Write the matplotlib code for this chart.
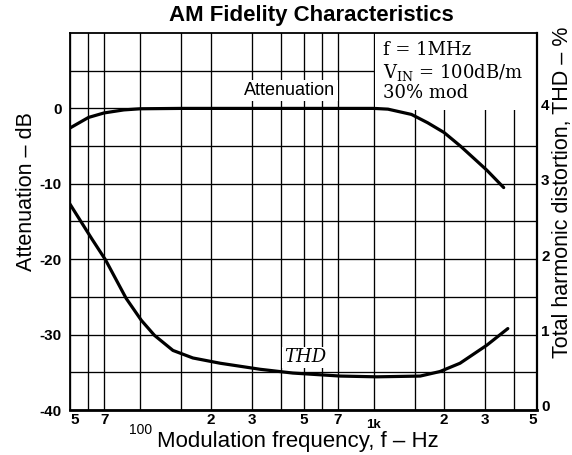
import matplotlib
matplotlib.use("Agg")
import matplotlib.pyplot as plt
import matplotlib.transforms as mtransforms
from matplotlib.patches import Rectangle
from matplotlib.ticker import NullFormatter

plt.rcParams['font.family'] = ['Liberation Sans', 'DejaVu Sans']
plt.rcParams['axes.unicode_minus'] = False
plt.rcParams['mathtext.fontset'] = 'dejavuserif'

# Attenuation curve (dB)
att_freq = [50, 60, 70, 85, 100, 150, 300, 700, 1000, 1150, 1450, 1700, 2000, 2350, 2700, 3050, 3600]
att_db = [-2.6, -1.2, -0.6, -0.2, -0.05, 0, 0, 0, 0, -0.1, -0.8, -1.9, -3.2, -5.0, -6.7, -8.2, -10.5]

# THD curve (%)
thd_freq = [50, 62, 71, 87, 101, 115, 138, 168, 220, 326, 450, 720, 1030, 1580, 1920, 2340, 3050, 3750]
thd_pct = [2.73, 2.27, 1.99, 1.48, 1.19, 0.99, 0.79, 0.69, 0.62, 0.54, 0.49, 0.45, 0.44, 0.45, 0.51, 0.62, 0.86, 1.08]

# axis ticks
x_label_ticks = [50, 70, 200, 300, 500, 700, 2000, 3000, 5000]
x_label_text = ['5', '7', '2', '3', '5', '7', '2', '3', '5']
x_grid_ticks = [60, 100, 150, 400, 600, 1000, 1500, 4000]
db_ticks = [-40, -30, -20, -10, 0]
db_grid = [-35, -25, -15, -5, 5]
thd_ticks = [0, 1, 2, 3, 4]

fig = plt.figure(figsize=(5.72, 4.55), dpi=100)
ax = fig.add_axes([70 / 572, 45 / 455, 467 / 572, 377 / 455])
ax.set_xscale('log')
ax.set_xlim(50, 5000)
ax.set_ylim(-40, 10)

ax.set_xticks(x_label_ticks, labels=x_label_text)
ax.set_xticks(x_grid_ticks, minor=True)
ax.xaxis.set_minor_formatter(NullFormatter())
ax.set_yticks(db_ticks, labels=[str(v) for v in db_ticks])
ax.set_yticks(db_grid, minor=True)
ax.tick_params(which='both', length=0)
ax.tick_params(axis='x', pad=2, labelsize=11)
ax.tick_params(axis='y', pad=6, labelsize=11)
for lbl in ax.get_xticklabels() + ax.get_yticklabels():
    lbl.set_fontweight('bold')
xl = ax.get_xticklabels()
xl[0].set_ha('left')
xl[-1].set_ha('right')

ax.set_axisbelow(True)
ax.grid(which='both', color='black', linewidth=0.95)
for side, w in [('top', 1.3), ('left', 1.3), ('right', 1.6), ('bottom', 2.0)]:
    ax.spines[side].set_linewidth(w)

# white panel behind the conditions text
ax.add_patch(Rectangle((1012, -0.25), 4000, 10.3, facecolor='white', edgecolor='none', zorder=1.5))

ax.plot(att_freq, att_db, color='black', linewidth=2.3, zorder=3, solid_capstyle='round')

ax2 = ax.twinx()
ax2.set_ylim(0, 5)
ax2.set_yticks(thd_ticks, labels=[str(v) for v in thd_ticks])
ax2.tick_params(length=0, pad=3, labelsize=11)
for lbl in ax2.get_yticklabels():
    lbl.set_fontweight('bold')
    lbl.set_transform(lbl.get_transform() + mtransforms.ScaledTranslation(0, 3 / 72, fig.dpi_scale_trans))
for s in ax2.spines.values():
    s.set_visible(False)
ax2.plot(thd_freq, thd_pct, color='black', linewidth=2.3, zorder=3, solid_capstyle='round')

# labels
ax.set_ylabel('Attenuation – dB', fontsize=15.5)
ax.yaxis.set_label_coords(-0.07, 0.58)
ax2.set_ylabel('Total harmonic distortion, THD – %', fontsize=15.5)
ax2.yaxis.set_label_coords(1.032, 0.578)
ax.set_xlabel('Modulation frequency, f – Hz', fontsize=16)
ax.xaxis.set_label_coords(0.488, -0.055)
fig.text(311 / 572, 1 - 15 / 455, 'AM Fidelity Characteristics', ha='center', va='center',
         fontsize=16, fontweight='bold')

xt = ax.get_xaxis_transform()
ax.text(100, -0.053, '100', transform=xt, ha='center', va='center', fontsize=10)
ax.text(1000, -0.04, '1k', transform=xt, ha='center', va='center', fontsize=9.5, fontweight='bold')

ax.text(437, 2.4, 'Attenuation', ha='center', va='center', fontsize=13,
        bbox=dict(facecolor='white', edgecolor='none', pad=1.5), zorder=4)
ax.text(507, -33.0, 'THD', ha='center', va='center', fontsize=13, family='DejaVu Serif', style='italic',
        bbox=dict(facecolor='white', edgecolor='none', pad=1.0), zorder=4)

serif = dict(family='DejaVu Serif', fontsize=13, ha='left', va='center', zorder=4)
ax.text(1095, 7.7, 'f = 1MHz', **serif)
ax.text(1095, 4.8, r'V$_{\mathrm{IN}}$ = 100dB/m', **serif)
ax.text(1095, 2.0, '30% mod', **serif)

fig.savefig('out.png', dpi=100)
